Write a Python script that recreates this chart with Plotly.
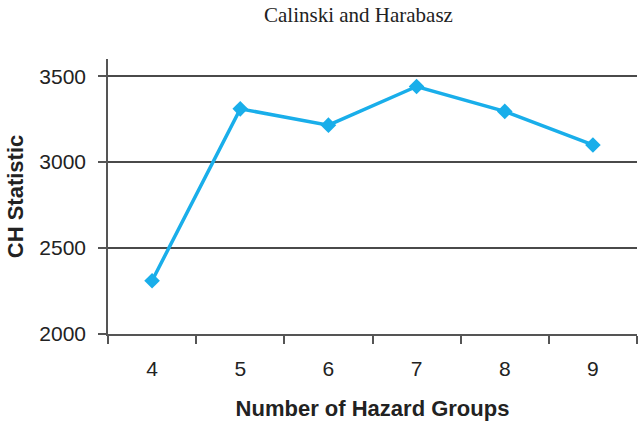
import plotly.graph_objects as go

groups = ["4", "5", "6", "7", "8", "9"]
ch_stat = [2310, 3310, 3215, 3440, 3295, 3100]

line_blue = "#19AEEA"
axis_grey = "#555555"

fig = go.Figure()
fig.add_trace(go.Scatter(x=groups, y=ch_stat, mode="lines+markers",
                         line=dict(color=line_blue, width=3.5),
                         marker=dict(symbol="diamond", size=12, color=line_blue),
                         showlegend=False))

fig.update_layout(
    width=641, height=425,
    margin=dict(l=108, r=4, t=59, b=91),
    paper_bgcolor="white", plot_bgcolor="white",
    font=dict(family="Liberation Sans, Arial", size=18, color="#222222"),
)
# title sits left of the plot centre, near the top edge
fig.add_annotation(text="Calinski and Harabasz", x=(358 - 108) / 529, y=1 + (59 - 15) / 275,
                   xref="paper", yref="paper", showarrow=False,
                   xanchor="center", yanchor="middle",
                   font=dict(family="Liberation Serif, Times New Roman", size=21, color="#222222"))

fig.update_xaxes(type="category", range=[-0.5, 5.5], tickson="boundaries",
                 ticks="outside", ticklen=8, tickcolor=axis_grey, tickwidth=1.5,
                 showline=True, linecolor=axis_grey, linewidth=1.5,
                 showgrid=False, zeroline=False, automargin=False,
                 tickfont=dict(size=21), ticklabelstandoff=15,
                 title=dict(text="<b>Number of Hazard Groups</b>", standoff=22,
                            font=dict(size=22)))
fig.update_yaxes(range=[2000, 3600], tickvals=[2000, 2500, 3000, 3500],
                 ticks="outside", ticklen=8, tickcolor=axis_grey, tickwidth=1.5,
                 showline=True, linecolor=axis_grey, linewidth=1.5,
                 showgrid=True, gridcolor="#4a4a4a", gridwidth=1.5,
                 zeroline=False, automargin=False,
                 tickfont=dict(size=21), ticklabelstandoff=8,
                 title=dict(text="<b>CH Statistic</b>", standoff=10,
                            font=dict(size=22)))

# drop the browser's default body margin so the figure fills the window
fig.write_html("out.html", config={"displayModeBar": False},
               post_script="document.body.style.margin='0px';")
